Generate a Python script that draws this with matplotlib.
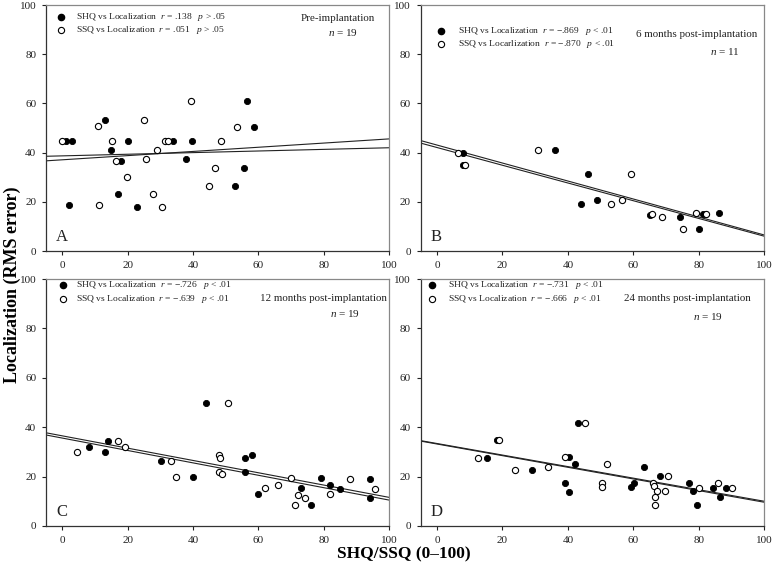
import numpy as np
import matplotlib
matplotlib.use("Agg")
import matplotlib.pyplot as plt

plt.rcParams['font.family'] = ['Liberation Serif', 'DejaVu Serif']
plt.rcParams['mathtext.fontset'] = 'custom'
plt.rcParams['mathtext.rm'] = 'Liberation Serif'
plt.rcParams['mathtext.it'] = 'Liberation Serif:italic'

# ---- data ----
# panel A : pre-implantation
a_shq_x = [1.0, 3.0, 2.0, 13.0, 14.9, 17.9, 16.9, 20.0, 22.9, 33.8, 37.8, 39.8, 52.8, 55.7, 56.6, 58.7]
a_shq_y = [44.9, 44.9, 18.9, 53.3, 41.0, 36.6, 23.1, 44.9, 17.8, 44.9, 37.3, 44.9, 26.3, 33.7, 61.2, 50.6]
a_ssq_x = [0.0, 11.0, 11.2, 15.1, 16.5, 19.9, 24.9, 25.5, 27.8, 29.1, 30.5, 31.5, 32.3, 39.5, 44.8, 46.8, 48.6, 53.6]
a_ssq_y = [44.9, 51.0, 18.9, 44.9, 36.6, 30.2, 53.3, 37.3, 23.1, 41.0, 17.8, 44.9, 44.9, 61.2, 26.3, 33.7, 44.9, 50.6]

# panel B : 6 months
b_shq_x = [8.0, 7.8, 36.0, 46.0, 44.1, 49.0, 64.9, 74.1, 80.1, 81.1, 86.1]
b_shq_y = [40.0, 34.8, 41.0, 31.4, 19.2, 20.8, 14.8, 13.7, 8.8, 15.2, 15.6]
b_ssq_x = [6.4, 8.6, 30.9, 53.2, 56.4, 59.3, 65.6, 68.8, 75.1, 79.2, 82.0]
b_ssq_y = [40.0, 34.8, 41.0, 19.2, 20.8, 31.4, 15.2, 13.7, 8.8, 15.6, 15.0]

# panel C : 12 months
c_shq_x = [8.1, 13.1, 14.1, 30.1, 40.0, 44.0, 56.0, 56.0, 58.0, 60.0, 73.1, 76.1, 79.1, 82.0, 85.1, 94.1, 94.1]
c_shq_y = [32.1, 29.9, 34.6, 26.4, 19.8, 49.6, 27.5, 21.8, 28.8, 13.1, 15.4, 8.6, 19.3, 16.8, 15.0, 18.9, 11.3]
c_ssq_x = [4.4, 17.1, 19.1, 33.4, 34.8, 48.0, 48.4, 48.0, 49.0, 50.8, 61.9, 65.9, 69.9, 72.0, 71.3, 74.4, 82.0, 88.0, 95.6]
c_ssq_y = [29.9, 34.6, 32.1, 26.4, 19.8, 28.8, 27.5, 21.8, 20.9, 49.6, 15.4, 16.8, 19.3, 12.7, 8.6, 11.3, 13.1, 18.9, 15.0]

# panel D : 24 months
d_shq_x = [15.2, 18.2, 29.1, 39.1, 40.2, 40.2, 42.2, 43.2, 59.2, 60.3, 63.2, 68.2, 77.0, 78.3, 79.3, 84.3, 86.3, 88.3]
d_shq_y = [27.5, 34.8, 22.7, 17.5, 28.1, 13.9, 25.2, 41.8, 15.8, 17.5, 23.8, 20.1, 17.5, 14.0, 8.4, 15.5, 11.7, 15.5]
d_ssq_x = [12.4, 19.0, 23.9, 33.9, 39.1, 45.3, 50.5, 50.5, 52.0, 66.0, 66.4, 67.1, 66.7, 66.6, 69.5, 70.5, 80.1, 85.8, 90.1]
d_ssq_y = [27.5, 34.8, 22.5, 23.8, 28.1, 41.8, 17.5, 15.8, 25.2, 17.5, 16.1, 14.2, 11.6, 8.4, 14.0, 20.1, 15.4, 17.5, 15.5]

# regression lines (intercept, slope)
a_fit = [(37.1, 0.085), (38.7, 0.033)]
b_fit = [(43.1, -0.366), (42.1, -0.361)]
c_fit = [(36.5, -0.249), (35.6, -0.251)]
d_fit = [(33.4, -0.234), (33.2, -0.236)]

a_stats = ["r = .138  p > .05", "r = .051  p > .05"]
b_stats = ["r = \u2212.869  p < .01", "r = \u2212.870  p < .01"]
c_stats = ["r = \u2212.726  p < .01", "r = \u2212.639  p < .01"]
d_stats = ["r = \u2212.731  p < .01", "r = \u2212.666  p < .01"]
b_names = ["SHQ vs Localization", "SSQ vs Locarlization"]
names = ["SHQ vs Localization", "SSQ vs Localization"]

titles = ["Pre-implantation", "6 months post-implantation",
          "12 months post-implantation", "24 months post-implantation"]
ns = ["19", "11", "19", "19"]
letters = ["A", "B", "C", "D"]


def fmt(s):
    parts = s.split("  ")
    r = parts[0].replace("r", "$r$", 1)
    p = parts[1].replace("p", "$p$", 1)
    return r + "   " + p


fig = plt.figure(figsize=(7.74, 5.70), dpi=100)
boxes = [
    [0.0594, 0.5596, 0.4432, 0.4314],
    [0.5434, 0.5596, 0.4443, 0.4314],
    [0.0594, 0.0772, 0.4432, 0.4333],
    [0.5434, 0.0772, 0.4443, 0.4333],
]
panels = [
    (a_shq_x, a_shq_y, a_ssq_x, a_ssq_y, a_fit, a_stats, names),
    (b_shq_x, b_shq_y, b_ssq_x, b_ssq_y, b_fit, b_stats, b_names),
    (c_shq_x, c_shq_y, c_ssq_x, c_ssq_y, c_fit, c_stats, names),
    (d_shq_x, d_shq_y, d_ssq_x, d_ssq_y, d_fit, d_stats, names),
]
# legend / title placement per panel (axes fraction)
leg_pos = [(0.043, 0.952, 0.087, 0.899), (0.059, 0.893, 0.109, 0.840),
           (0.049, 0.974, 0.087, 0.921), (0.033, 0.974, 0.080, 0.921)]
title_pos = [(0.959, 0.946), (0.978, 0.879), (0.993, 0.923), (0.960, 0.923)]
n_pos = [(0.866, 0.889), (0.885, 0.81), (0.872, 0.862), (0.836, 0.85)]

for i in range(4):
    ax = fig.add_axes(boxes[i])
    sx, sy, ox, oy, fit, stats, nm = panels[i]
    xx = np.array([-5, 100])
    for b0, b1 in fit:
        ax.plot(xx, b0 + b1 * xx, color='#222222', lw=0.8, zorder=1)
    ax.scatter(sx, sy, s=20, c='black', edgecolors='black', linewidths=0.6, zorder=3)
    ax.scatter(ox, oy, s=20, c='white', edgecolors='black', linewidths=0.8, zorder=3)
    ax.set_xlim(-5, 100)
    ax.set_ylim(0, 100)
    ax.set_xticks([0, 20, 40, 60, 80, 100])
    ax.set_yticks([0, 20, 40, 60, 80, 100])
    ax.tick_params(direction='out', length=3, width=0.8, labelsize=8,
                   colors='#222222', pad=4)
    for side in ['top', 'right']:
        ax.spines[side].set_color('#888888')
    for side in ['left', 'bottom']:
        ax.spines[side].set_color('#333333')
    for sp in ax.spines.values():
        sp.set_linewidth(0.9)

    mx, my1, tx, my2 = leg_pos[i]
    ax.scatter([mx], [my1], s=20, c='black', transform=ax.transAxes, clip_on=False)
    ax.scatter([mx], [my2], s=20, c='white', edgecolors='black', linewidths=0.8,
               transform=ax.transAxes, clip_on=False)
    ax.text(tx, my1, nm[0] + "  " + fmt(stats[0]), transform=ax.transAxes,
            fontsize=6.8, va='center', ha='left', color='#222222')
    ax.text(tx, my2, nm[1] + "  " + fmt(stats[1]), transform=ax.transAxes,
            fontsize=6.8, va='center', ha='left', color='#222222')
    ax.text(title_pos[i][0], title_pos[i][1], titles[i], transform=ax.transAxes,
            fontsize=7.9, ha='right', va='center', color='#222222')
    ax.text(n_pos[i][0], n_pos[i][1], "$n$ = " + ns[i], transform=ax.transAxes,
            fontsize=8, ha='center', va='center', color='#222222')
    ax.text(0.03, 0.025, letters[i], transform=ax.transAxes,
            fontsize=12, ha='left', va='bottom', color='#222222')

fig.text(0.016, 0.5, "Localization (RMS error)", rotation=90, ha='center', va='center',
         fontsize=13, fontweight='bold')
fig.text(0.522, 0.028, "SHQ/SSQ (0\u2013100)", ha='center', va='center',
         fontsize=12.5, fontweight='bold')

fig.savefig("out.png", dpi=100)
